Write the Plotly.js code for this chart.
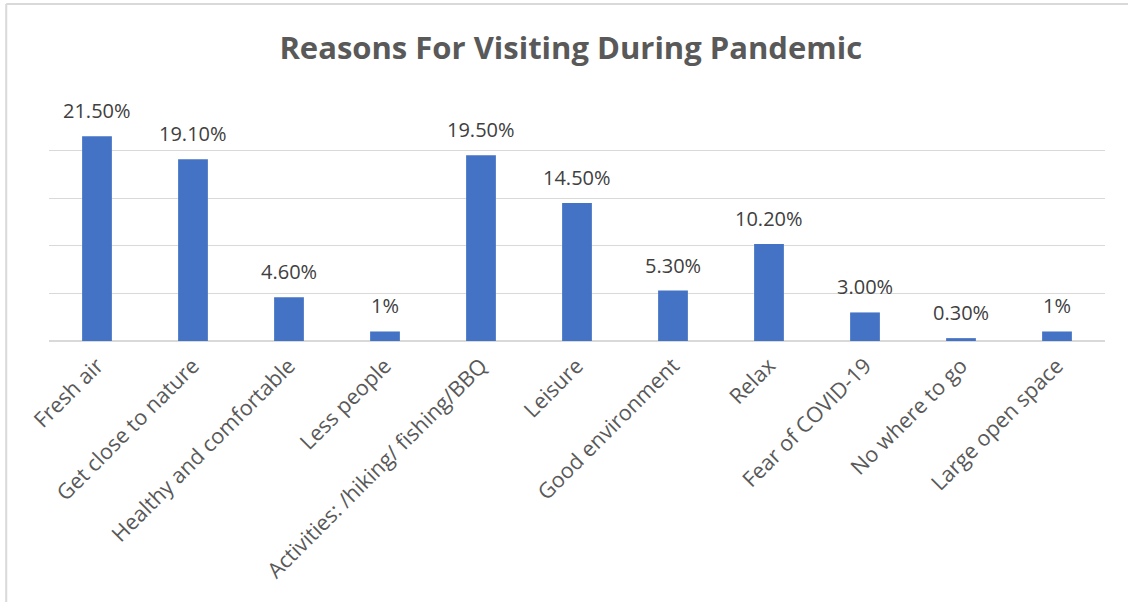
<!DOCTYPE html>
<html>
<head>
<meta charset="utf-8">
<script src="https://cdn.plot.ly/plotly-3.0.1.min.js"></script>
<style>
  html, body { margin: 0; padding: 0; background: #ffffff; }
  #chart { width: 1128px; height: 602px; }
</style>
</head>
<body>
<div id="chart"></div>
<script>
const categories = [
  "Fresh air",
  "Get close to nature",
  "Healthy and comfortable",
  "Less people",
  "Activities: /hiking/ fishing/BBQ",
  "Leisure",
  "Good environment",
  "Relax",
  "Fear of COVID-19",
  "No where to go",
  "Large open space"
];
const values = [21.5, 19.1, 4.6, 1, 19.5, 14.5, 5.3, 10.2, 3.0, 0.3, 1];
const valueLabels = ["21.50%", "19.10%", "4.60%", "1%", "19.50%", "14.50%", "5.30%", "10.20%", "3.00%", "0.30%", "1%"];
const yTicks = [0, 5, 10, 15, 20, 25];

const FONT = "Open Sans, Liberation Sans, sans-serif";

const trace = {
  type: "bar",
  x: categories,
  y: values,
  marker: { color: "#4472C4", line: { color: "#4472C4", width: 0 } },
  width: 0.31,
  hoverinfo: "x+y"
};

const annotations = categories.map((c, i) => ({
  x: c,
  y: values[i],
  xref: "x",
  yref: "y",
  text: valueLabels[i],
  showarrow: false,
  yanchor: "bottom",
  xanchor: "center",
  yshift: 10,
  font: { family: FONT, size: 20, color: "#404040" }
}));

const layout = {
  width: 1128,
  height: 602,
  paper_bgcolor: "#ffffff",
  plot_bgcolor: "#ffffff",
  margin: { l: 49, r: 23, t: 103, b: 261, pad: 0 },
  title: {
    text: "<b>Reasons For Visiting During Pandemic</b>",
    font: { family: FONT, size: 31, color: "#595959" },
    x: 0.506,
    xanchor: "center",
    y: 0.92,
    yanchor: "middle"
  },
  showlegend: false,
  bargap: 0.69,
  xaxis: {
    type: "category",
    tickangle: -45,
    tickfont: { family: FONT, size: 21.5, color: "#595959" },
    ticklabelstandoff: 7,
    showgrid: false,
    showline: false,
    ticks: "",
    zeroline: false,
    automargin: false
  },
  yaxis: {
    range: [0, 25],
    tickvals: yTicks,
    showticklabels: false,
    showgrid: true,
    gridcolor: "#d9d9d9",
    gridwidth: 1.3,
    zeroline: true,
    zerolinecolor: "#d9d9d9",
    zerolinewidth: 1.3,
    showline: false,
    ticks: "",
    automargin: false
  },
  annotations: annotations,
  shapes: [
    { type: "line", xref: "paper", yref: "paper", x0: -0.0405, x1: 1.03, y0: 1.416, y1: 1.416,
      line: { color: "#d9d9d9", width: 2 } },
    { type: "line", xref: "paper", yref: "paper", x0: -0.0405, x1: -0.0405, y0: 1.416, y1: -1.1,
      line: { color: "#d9d9d9", width: 2 } }
  ]
};

Plotly.newPlot("chart", [trace], layout, { displayModeBar: false, staticPlot: true });
</script>
</body>
</html>
